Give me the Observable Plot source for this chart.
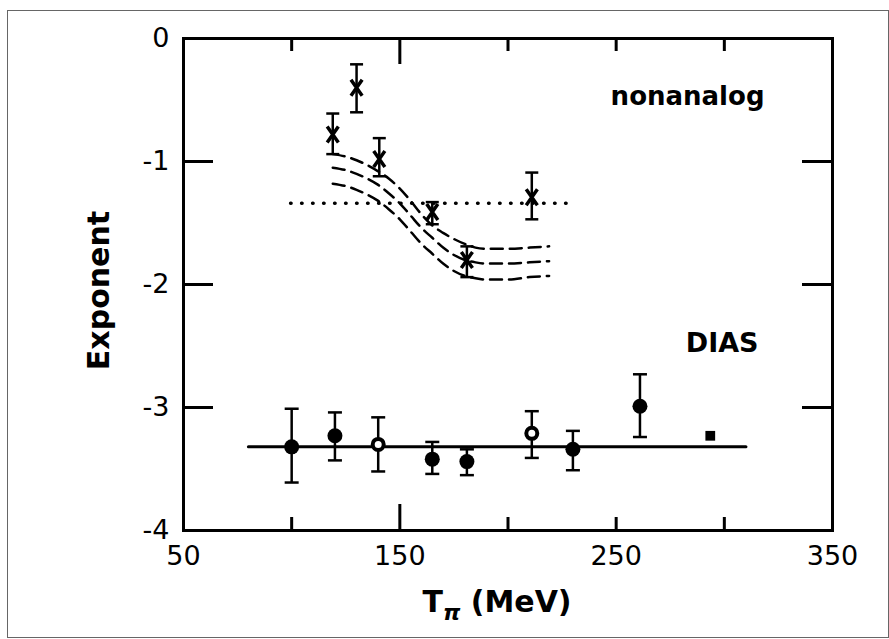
<!DOCTYPE html>
<html>
<head>
<meta charset="utf-8">
<script src="https://cdn.jsdelivr.net/npm/d3@7"></script>
<script src="https://cdn.jsdelivr.net/npm/@observablehq/plot@0.6"></script>
<style>
  html, body { margin: 0; padding: 0; background: #fff; }
  #wrap { position: relative; width: 889px; height: 639px; overflow: hidden; }
  #border { position: absolute; left: 7px; top: 10px; width: 880px; height: 626px;
            border: 1.5px solid #666; pointer-events: none; }
</style>
</head>
<body>
<div id="wrap"><div id="border"></div></div>
<script>
// ---- data ----
// nonanalog (crosses)
const nonX  = [119, 130, 140.5, 165, 181, 211];
const nonY  = [-0.78, -0.40, -0.98, -1.41, -1.80, -1.29];
const nonLo = [-0.94, -0.60, -1.12, -1.51, -1.94, -1.47];
const nonHi = [-0.61, -0.21, -0.81, -1.33, -1.69, -1.09];

// DIAS (circles)
const diasX    = [100, 120, 140, 165, 181, 211, 230, 261];
const diasY    = [-3.32, -3.23, -3.30, -3.42, -3.44, -3.21, -3.34, -2.99];
const diasLo   = [-3.61, -3.43, -3.52, -3.54, -3.55, -3.41, -3.51, -3.24];
const diasHi   = [-3.01, -3.04, -3.08, -3.28, -3.34, -3.03, -3.19, -2.73];
const diasOpen = [false, false, true, false, false, true, false, false];

// DIAS extra point (small square)
const sqX = [293.5];
const sqY = [-3.23];

// DIAS constant fit (solid)
const fitX = [80, 310];
const fitY = [-3.32, -3.32];

// nonanalog constant (dotted)
const dotX = [99.5, 228.5];
const dotY = [-1.34, -1.34];

// calculated curves (dashed)
const curveX     = [119, 125, 130, 135, 140, 145, 150, 155, 160, 165, 170, 175, 180, 185, 190, 200, 210, 219];
const curveUpper = [-0.94, -0.96, -0.99, -1.03, -1.08, -1.14, -1.22, -1.32, -1.43, -1.52, -1.58, -1.63, -1.67, -1.70, -1.71, -1.71, -1.70, -1.69];
const curveMid   = [-1.05, -1.07, -1.10, -1.14, -1.19, -1.26, -1.34, -1.44, -1.54, -1.62, -1.70, -1.76, -1.80, -1.82, -1.83, -1.83, -1.82, -1.81];
const curveLower = [-1.18, -1.20, -1.23, -1.27, -1.32, -1.39, -1.47, -1.57, -1.67, -1.75, -1.83, -1.89, -1.93, -1.95, -1.96, -1.96, -1.94, -1.93];

// axis ticks
const xTickLabels = [50, 150, 250, 350];
const xMinorTicks = [100, 200, 250, 300];
const xMajorTicks = [150];
const yTickLabels = [0, -1, -2, -3, -4];
const yInnerTicks = [-1, -2, -3];

// ---- build tables ----
const nonData  = nonX.map((x, i) => ({x, y: nonY[i], lo: nonLo[i], hi: nonHi[i]}));
const diasData = diasX.map((x, i) => ({x, y: diasY[i], lo: diasLo[i], hi: diasHi[i], open: diasOpen[i]}));
const sqData   = sqX.map((x, i) => ({x, y: sqY[i]}));
const fitData  = fitX.map((x, i) => ({x, y: fitY[i]}));
const dotData  = dotX.map((x, i) => ({x, y: dotY[i]}));
const curves = [
  ...curveX.map((x, i) => ({x, y: curveUpper[i], k: "upper"})),
  ...curveX.map((x, i) => ({x, y: curveMid[i],   k: "mid"})),
  ...curveX.map((x, i) => ({x, y: curveLower[i], k: "lower"}))
];

// custom symbols
const capSymbol = {draw(ctx, size) { const r = Math.sqrt(size / Math.PI); ctx.moveTo(-r, 0); ctx.lineTo(r, 0); }};
const crossSymbol = {draw(ctx, size) {
  const r = Math.sqrt(size / Math.PI);
  ctx.moveTo(-r * 0.7, -r); ctx.lineTo(r * 0.7, r);
  ctx.moveTo(r * 0.7, -r); ctx.lineTo(-r * 0.7, r);
}};

const W = 889, H = 639, mL = 183, mR = 57, mT = 38, mB = 109;
const pw = W - mL - mR, ph = H - mT - mB;
const font = "DejaVu Sans";

const plot = Plot.plot({
  width: W, height: H,
  marginLeft: mL, marginRight: mR, marginTop: mT, marginBottom: mB,
  style: {fontFamily: font, fontSize: "27px", color: "black", background: "transparent"},
  x: {domain: [50, 350]},
  y: {domain: [-4, 0]},
  marks: [
    Plot.frame({stroke: "black", strokeWidth: 3}),
    Plot.axisX({ticks: xTickLabels, tickSize: 0, tickPadding: 15, label: null, fontSize: 27, stroke: "black", strokeWidth: 0.4}),
    Plot.axisY({ticks: yTickLabels, tickSize: 0, tickPadding: 14, label: null, fontSize: 27, stroke: "black", strokeWidth: 0.4, tickFormat: d => String(d)}),
    // inner ticks
    Plot.tickX(xMinorTicks, {x: d => d, insetTop: ph - 13, stroke: "black", strokeWidth: 3}),
    Plot.tickX(xMinorTicks, {x: d => d, insetBottom: ph - 13, stroke: "black", strokeWidth: 3}),
    Plot.tickX(xMajorTicks, {x: d => d, insetTop: ph - 26, stroke: "black", strokeWidth: 3}),
    Plot.tickX(xMajorTicks, {x: d => d, insetBottom: ph - 26, stroke: "black", strokeWidth: 3}),
    Plot.tickY(yInnerTicks, {y: d => d, insetRight: pw - 30, stroke: "black", strokeWidth: 3}),
    Plot.tickY(yInnerTicks, {y: d => d, insetLeft: pw - 30, stroke: "black", strokeWidth: 3}),
    // lines
    Plot.line(curves, {x: "x", y: "y", z: "k", curve: "monotone-x", stroke: "black", strokeWidth: 2.5, strokeDasharray: "12 7"}),
    Plot.line(dotData, {x: "x", y: "y", stroke: "black", strokeWidth: 3.5, strokeDasharray: "0.5 10.5", strokeLinecap: "round"}),
    Plot.line(fitData, {x: "x", y: "y", stroke: "black", strokeWidth: 3}),
    // nonanalog error bars + crosses
    Plot.ruleX(nonData, {x: "x", y1: "lo", y2: "hi", stroke: "black", strokeWidth: 2.5}),
    Plot.dot(nonData, {x: "x", y: "lo", symbol: capSymbol, r: 6.5, fill: "none", stroke: "black", strokeWidth: 2.5}),
    Plot.dot(nonData, {x: "x", y: "hi", symbol: capSymbol, r: 6.5, fill: "none", stroke: "black", strokeWidth: 2.5}),
    Plot.dot(nonData, {x: "x", y: "y", symbol: crossSymbol, r: 8, fill: "none", stroke: "black", strokeWidth: 3.5}),
    // DIAS error bars + dots
    Plot.ruleX(diasData, {x: "x", y1: "lo", y2: "hi", stroke: "black", strokeWidth: 2.5}),
    Plot.dot(diasData, {x: "x", y: "lo", symbol: capSymbol, r: 7, fill: "none", stroke: "black", strokeWidth: 2.5}),
    Plot.dot(diasData, {x: "x", y: "hi", symbol: capSymbol, r: 7, fill: "none", stroke: "black", strokeWidth: 2.5}),
    Plot.dot(diasData.filter(d => !d.open), {x: "x", y: "y", r: 7.5, fill: "black", stroke: "none"}),
    Plot.dot(diasData.filter(d => d.open), {x: "x", y: "y", r: 5.5, fill: "white", stroke: "black", strokeWidth: 4}),
    Plot.dot(sqData, {x: "x", y: "y", symbol: "square", r: 5.5, fill: "black", stroke: "none"}),
    // annotations
    Plot.text(["nonanalog"], {x: 283, y: -0.47, text: d => d, fontSize: 26, fontWeight: "bold", textAnchor: "middle", lineAnchor: "middle"}),
    Plot.text(["DIAS"], {x: 299, y: -2.48, text: d => d, fontSize: 27, fontWeight: "bold", textAnchor: "middle", lineAnchor: "middle"}),
    Plot.text(["Exponent"], {frameAnchor: "left", text: d => d, rotate: -90, dx: -84, dy: 6, fontSize: 30, fontWeight: "bold", textAnchor: "middle", lineAnchor: "middle"})
  ]
});

// x-axis label with subscript
const svg = d3.select(plot);
const lab = svg.append("text")
  .attr("x", 497).attr("y", 612)
  .attr("text-anchor", "middle")
  .style("font-family", font).style("font-weight", "bold").style("font-size", "30px").attr("fill", "black");
lab.append("tspan").text("T");
lab.append("tspan").attr("dy", 8).style("font-size", "22px").style("font-style", "italic").text("π");
lab.append("tspan").attr("dy", -8).text(" (MeV)");

document.getElementById("wrap").prepend(plot);
</script>
</body>
</html>
